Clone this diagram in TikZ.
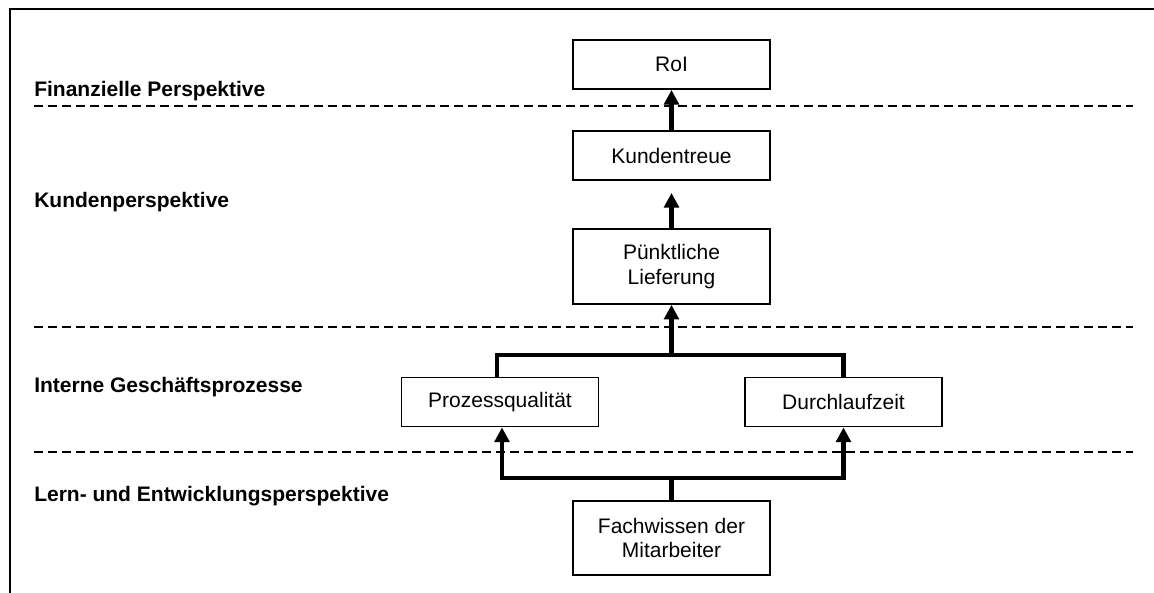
\documentclass[tikz,border=0pt]{standalone}
\usepackage{fontspec}
\setmainfont{Liberation Sans}
\usetikzlibrary{arrows.meta}
\begin{document}
\begin{tikzpicture}[x=0.75pt,y=-0.75pt,
  box/.style={draw,line width=1.4pt,inner sep=0pt,align=center,
    minimum width=147.75pt,minimum height=36.75pt,
    font=\fontsize{15.75}{18.5}\selectfont},
  tallbox/.style={box,minimum height=56pt},
  lab/.style={inner sep=0pt,anchor=base west,font=\fontsize{15.75}{18.5}\selectfont\bfseries},
  sepline/.style={line width=1.35pt,dash pattern=on 6.4pt off 4.1pt},
  link/.style={line width=3.2pt},
  arr/.style={link,-{Triangle[width=11pt,length=11pt]}},
  frameline/.style={line width=1.5pt}]
  \useasboundingbox (0,0) rectangle (1154,593);

  % open frame (top and left edge)
  \draw[frameline] (10,593) -- (10,9) -- (1154,9);

  % perspective separators
  \draw[sepline] (34,106) -- (1133,106);
  \draw[sepline] (34,327) -- (1133,327);
  \draw[sepline] (34,452) -- (1133,452);

  % perspective labels
  \node[lab] (l1) at (34,96)  {Finanzielle Perspektive};
  \node[lab] (l2) at (34,207) {Kundenperspektive};
  \node[lab] (l3) at (34,392) {Interne Geschäftsprozesse};
  \node[lab] (l4) at (34,501) {Lern- und Entwicklungsperspektive};

  % objectives
  \node[box]     (roi) at (671.5,64.5)  {RoI};
  \node[box]     (kt)  at (671.5,155.5) {Kundentreue};
  \node[tallbox] (pl)  at (671.5,266.5) {Pünktliche\\Lieferung};
  \node[box]     (pq)  at (500,402)     {Prozessqualität};
  \node[box]     (dz)  at (843.5,402)   {Durchlaufzeit};
  \node[tallbox] (fw)  at (671.5,538)   {Fachwissen der\\Mitarbeiter};

  % junction points of the forks
  \coordinate (j1) at (671.5,355);
  \coordinate (j2) at (671.5,478);

  % cause-and-effect links
  \draw[arr] (kt.north) -- (roi.south);
  \draw[arr] (pl.north) -- ([yshift=-9pt]kt.south);
  \draw[link] ([xshift=-2.25pt]pq.north) |- (dz.north |- j1) -- (dz.north);
  \draw[arr] (j1) -- (pl.south);
  \draw[link] (fw.north) -- (j2);
  \draw[arr] (j2) -| ([xshift=1.5pt]pq.south);
  \draw[arr] (j2) -| (dz.south);
\end{tikzpicture}
\end{document}
